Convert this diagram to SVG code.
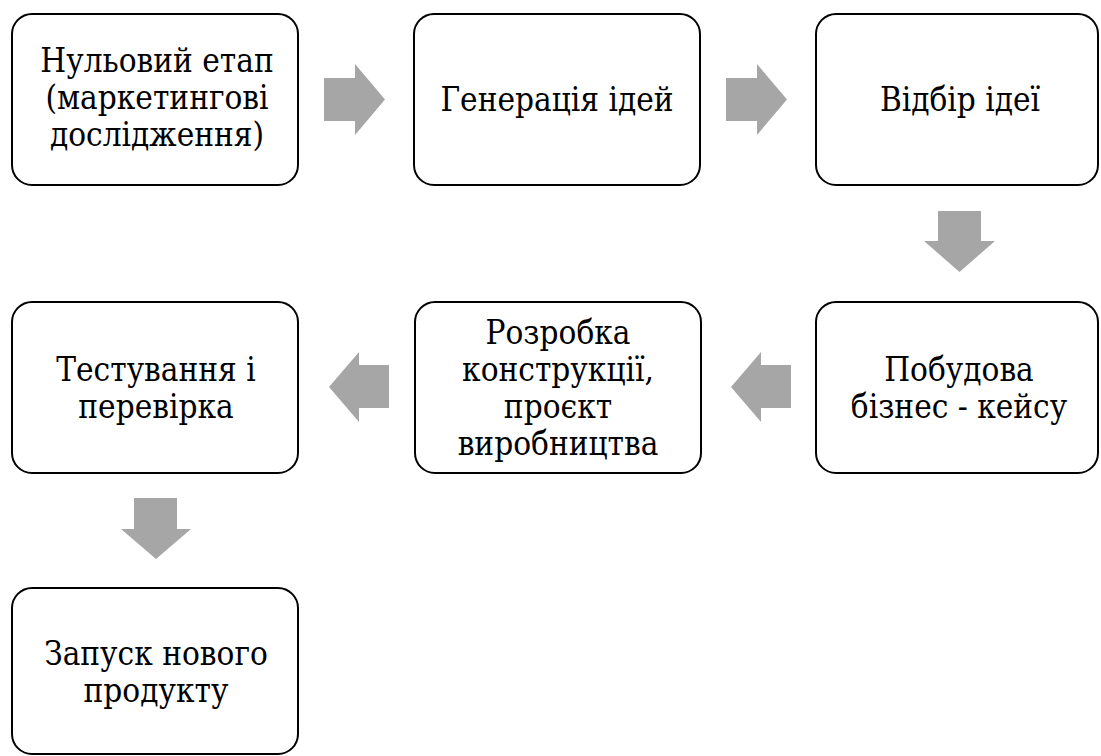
<svg xmlns="http://www.w3.org/2000/svg" width="1101" height="756" viewBox="0 0 1101 756">
<style>
.box{fill:#fff;stroke:#000;stroke-width:2}
.arr{fill:#a6a6a6}
.t{font-family:"DejaVu Serif",serif;font-size:33px;fill:#000;text-anchor:middle}
</style>
<rect width="1101" height="756" fill="#fff"/>
<g id="connectors">
<polygon class="arr" points="324,78 355,78 355,64 385,99.5 355,135 355,121 324,121"/>
<polygon class="arr" points="726,78 757,78 757,64 787,99.5 757,135 757,121 726,121"/>
<polygon class="arr" points="938,211 981,211 981,241 995,241 959.5,272 924,241 938,241"/>
<polygon class="arr" points="791,365 761,365 761,352 731,387 761,422 761,408 791,408"/>
<polygon class="arr" points="389,365 359,365 359,352 329,387 359,422 359,408 389,408"/>
<polygon class="arr" points="134,498 177,498 177,529 191,529 156,559 121,529 134,529"/>
</g>
<g id="n1">
<rect class="box" x="12" y="14" width="286" height="171" rx="20"/>
<text class="t" transform="translate(157,72) scale(0.9,1)">Нульовий етап</text>
<text class="t" transform="translate(157,109) scale(0.9,1)">(маркетингові</text>
<text class="t" transform="translate(157,146) scale(0.9,1)">дослідження)</text>
</g>
<g id="n2">
<rect class="box" x="414" y="14" width="286" height="171" rx="20"/>
<text class="t" transform="translate(557,111) scale(0.9,1)">Генерація ідей</text>
</g>
<g id="n3">
<rect class="box" x="816" y="14" width="282" height="171" rx="20"/>
<text class="t" transform="translate(960,111) scale(0.9,1)">Відбір ідеї</text>
</g>
<g id="n4">
<rect class="box" x="816" y="302" width="282" height="171" rx="20"/>
<text class="t" transform="translate(959,381) scale(0.9,1)">Побудова</text>
<text class="t" transform="translate(959,418) scale(0.9,1)">бізнес - кейсу</text>
</g>
<g id="n5">
<rect class="box" x="415" y="302" width="286" height="171" rx="20"/>
<text class="t" transform="translate(558,344) scale(0.9,1)">Розробка</text>
<text class="t" transform="translate(558,381) scale(0.9,1)">конструкції,</text>
<text class="t" transform="translate(558,418) scale(0.9,1)">проєкт</text>
<text class="t" transform="translate(558,455) scale(0.9,1)">виробництва</text>
</g>
<g id="n6">
<rect class="box" x="12" y="302" width="286" height="171" rx="20"/>
<text class="t" transform="translate(156,381) scale(0.9,1)">Тестування і</text>
<text class="t" transform="translate(156,418) scale(0.9,1)">перевірка</text>
</g>
<g id="n7">
<rect class="box" x="12" y="588" width="286" height="166" rx="20"/>
<text class="t" transform="translate(156,665) scale(0.9,1)">Запуск нового</text>
<text class="t" transform="translate(156,702) scale(0.9,1)">продукту</text>
</g>
</svg>
